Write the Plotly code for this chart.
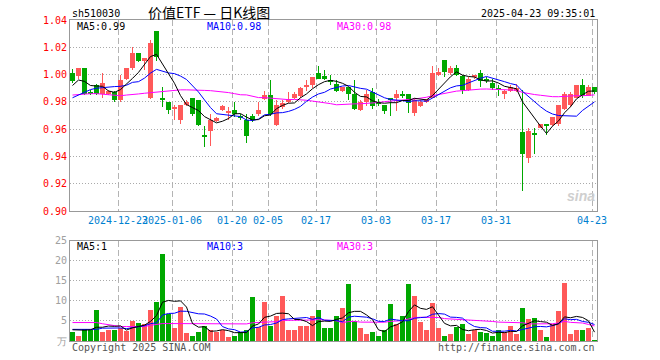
import plotly.graph_objects as go
import pandas as pd

dates = [
    "2024-12-11", "2024-12-12", "2024-12-13", "2024-12-16", "2024-12-17", "2024-12-18", "2024-12-19", "2024-12-20",
    "2024-12-23", "2024-12-24", "2024-12-25", "2024-12-26", "2024-12-27", "2024-12-30", "2024-12-31",
    "2025-01-02", "2025-01-03", "2025-01-06", "2025-01-07", "2025-01-08", "2025-01-09", "2025-01-10",
    "2025-01-13", "2025-01-14", "2025-01-15", "2025-01-16", "2025-01-17", "2025-01-20", "2025-01-21",
    "2025-01-22", "2025-01-23", "2025-01-24", "2025-01-27",
    "2025-02-05", "2025-02-06", "2025-02-07", "2025-02-10", "2025-02-11", "2025-02-12", "2025-02-13",
    "2025-02-14", "2025-02-17", "2025-02-18", "2025-02-19", "2025-02-20", "2025-02-21", "2025-02-24",
    "2025-02-25", "2025-02-26", "2025-02-27", "2025-02-28",
    "2025-03-03", "2025-03-04", "2025-03-05", "2025-03-06", "2025-03-07", "2025-03-10", "2025-03-11",
    "2025-03-12", "2025-03-13", "2025-03-14", "2025-03-17", "2025-03-18", "2025-03-19", "2025-03-20",
    "2025-03-21", "2025-03-24", "2025-03-25", "2025-03-26", "2025-03-27", "2025-03-28", "2025-03-31",
    "2025-04-01", "2025-04-02", "2025-04-03", "2025-04-07", "2025-04-08", "2025-04-09", "2025-04-10",
    "2025-04-11", "2025-04-14", "2025-04-15", "2025-04-16", "2025-04-17", "2025-04-18", "2025-04-21",
    "2025-04-22", "2025-04-23",
]

opens = [
    1.001, 0.999, 1.005, 0.987, 0.992, 0.986, 0.986, 0.987, 0.981, 0.997,
    1.005, 1.016, 1.010, 0.983, 1.032, 0.983, 0.980, 0.975, 0.967, 0.978,
    0.983, 0.981, 0.956, 0.959, 0.966, 0.974, 0.972, 0.974, 0.970, 0.967,
    0.970, 0.971, 0.982, 0.985, 0.963, 0.976, 0.980, 0.983, 0.984, 0.991,
    0.992, 1.001, 0.999, 0.996, 0.993, 0.988, 0.991, 0.986, 0.974, 0.980,
    0.987, 0.980, 0.978, 0.983, 0.983, 0.986, 0.986, 0.972, 0.977, 0.980,
    0.983, 1.000, 1.011, 1.001, 1.005, 0.999, 0.989, 0.998, 1.001, 0.997,
    0.994, 0.990, 0.986, 0.988, 0.988, 0.958, 0.939, 0.957, 0.961, 0.964,
    0.963, 0.964, 0.975, 0.978, 0.983, 0.992, 0.984, 0.991,
]
highs = [
    1.004, 1.005, 1.005, 0.989, 0.993, 1.001, 0.989, 0.988, 1.000, 1.005,
    1.020, 1.016, 1.012, 1.025, 1.032, 0.991, 0.980, 0.978, 0.978, 0.981,
    0.983, 0.981, 0.962, 0.971, 0.969, 0.978, 0.976, 0.980, 0.971, 0.971,
    0.971, 0.980, 0.988, 0.996, 0.981, 0.981, 0.987, 0.987, 0.991, 0.996,
    0.998, 1.006, 1.003, 1.000, 0.996, 0.991, 0.991, 0.996, 0.981, 0.989,
    0.990, 0.982, 0.978, 0.983, 0.989, 0.988, 0.986, 0.983, 0.981, 0.982,
    1.006, 1.005, 1.011, 1.006, 1.007, 1.000, 0.998, 1.000, 1.003, 0.998,
    0.997, 0.992, 0.989, 0.992, 0.993, 0.989, 0.961, 0.961, 0.964, 0.964,
    0.969, 0.978, 0.987, 0.987, 0.992, 0.997, 0.992, 0.991,
]
lows = [
    0.994, 0.997, 0.985, 0.985, 0.985, 0.983, 0.985, 0.980, 0.980, 0.996,
    1.003, 1.009, 1.003, 0.982, 1.010, 0.976, 0.971, 0.967, 0.964, 0.977,
    0.970, 0.962, 0.947, 0.948, 0.965, 0.973, 0.967, 0.969, 0.967, 0.950,
    0.965, 0.970, 0.981, 0.970, 0.962, 0.975, 0.979, 0.982, 0.983, 0.988,
    0.990, 0.997, 0.996, 0.992, 0.987, 0.987, 0.981, 0.974, 0.973, 0.977,
    0.975, 0.977, 0.971, 0.970, 0.973, 0.983, 0.972, 0.970, 0.976, 0.979,
    0.983, 0.999, 0.998, 1.000, 0.999, 0.986, 0.988, 0.997, 0.991, 0.994,
    0.989, 0.984, 0.982, 0.987, 0.987, 0.915, 0.935, 0.942, 0.961, 0.956,
    0.962, 0.962, 0.974, 0.976, 0.983, 0.983, 0.984, 0.986,
]
closes = [
    0.995, 1.005, 0.986, 0.986, 0.986, 0.994, 0.988, 0.981, 0.996, 1.005,
    1.016, 1.010, 1.012, 1.023, 1.013, 0.982, 0.974, 0.976, 0.978, 0.980,
    0.971, 0.963, 0.954, 0.967, 0.968, 0.977, 0.973, 0.971, 0.968, 0.955,
    0.967, 0.974, 0.985, 0.971, 0.978, 0.979, 0.982, 0.986, 0.990, 0.992,
    0.998, 0.997, 0.997, 0.995, 0.988, 0.991, 0.986, 0.975, 0.980, 0.986,
    0.977, 0.979, 0.973, 0.982, 0.986, 0.985, 0.979, 0.981, 0.980, 0.982,
    1.001, 1.002, 1.002, 1.005, 1.000, 0.989, 0.997, 1.000, 0.995, 0.995,
    0.990, 0.989, 0.988, 0.991, 0.990, 0.942, 0.959, 0.956, 0.964, 0.963,
    0.969, 0.978, 0.986, 0.986, 0.992, 0.984, 0.991, 0.987,
]
volumes = [
    2.25, 1.4, 3.1, 2.7, 7.7, 2.25, 2.9, 2.7, 3.3, 2.5,
    5.0, 4.6, 4.4, 7.9, 9.75, 21.7, 6.8, 3.3, 8.5, 2.0,
    1.2, 2.25, 3.9, 2.8, 2.4, 2.8, 1.0, 1.4, 2.4, 2.9,
    11.0, 3.5, 9.75, 3.9, 6.2, 11.4, 2.7, 2.7, 3.7, 3.7,
    6.4, 7.7, 3.3, 3.3, 6.2, 8.25, 14.2, 5.0, 3.3, 1.75,
    2.4, 1.4, 2.9, 9.2, 4.2, 6.2, 14.2, 11.2, 4.9, 2.9,
    9.5, 3.3, 1.4, 1.75, 3.5, 4.4, 1.75, 2.7, 2.25, 2.0,
    1.2, 2.7, 2.25, 3.9, 1.75, 8.25, 5.5, 5.8, 2.9, 1.0,
    4.2, 7.5, 14.5, 1.75, 2.7, 2.9, 3.3, 0.4,
]

# moving-average values for the first days, whose windows
# reach back before the visible range
ma5_lead = [0.992, 0.996, 0.995, 0.992]
ma10_lead = [0.983, 0.985, 0.987, 0.989, 0.990, 0.9905, 0.991, 0.9912, 0.9914]
ma30_lead = [0.9850, 0.9855, 0.9860, 0.9860, 0.9860, 0.9855, 0.9850, 0.9845, 0.9845, 0.9850,
             0.9852, 0.9858, 0.9863, 0.9868, 0.9872, 0.9878, 0.9883, 0.9886, 0.9888, 0.9888,
             0.9888, 0.9886, 0.9884, 0.9882, 0.9878, 0.9874, 0.9868, 0.9860, 0.9852]
vma5_lead = [2.8, 2.7, 2.7, 2.8]
vma10_lead = [2.9, 2.9, 2.9, 2.9, 2.9, 3.2, 3.25, 3.25, 3.25]
vma30_lead = [4.6, 4.6, 4.6, 4.6, 4.6, 4.3, 4.1, 3.9, 3.6, 3.6,
              3.6, 3.6, 3.6, 3.9, 4.1, 4.35, 4.35, 4.35, 4.35, 4.35,
              4.35, 4.35, 4.35, 4.35, 4.35, 4.35, 4.35, 4.2, 4.2]

tick_dates = ["2024-12-23", "2025-01-06", "2025-01-20", "2025-02-05", "2025-02-17",
              "2025-03-03", "2025-03-17", "2025-03-31", "2025-04-23"]
tick_labels = ["2024-12-23", "2025-01-06", "01-20", "02-05", "02-17",
               "03-03", "03-17", "03-31", "04-23"]
price_ticks = [0.90, 0.92, 0.94, 0.96, 0.98, 1.00, 1.02, 1.04]
vol_ticks = [0, 5, 10, 15, 20, 25]
vol_tick_text = ["万", "5", "10", "15", "20", "25"]

UP = "#ff5959"
DN = "#00a800"
MONO = "DejaVu Sans Mono"

n = len(dates)
x = list(range(n))
colors = [UP if c >= o else DN for o, c in zip(opens, closes)]


def ma(s, k, lead):
    full = pd.Series(s).rolling(k).mean().tolist()
    return list(lead) + full[len(lead):]


fig = go.Figure()

# wicks
fig.add_trace(go.Bar(x=x, y=[h - l for h, l in zip(highs, lows)], base=lows, width=1 / 6,
                     marker=dict(color=colors, line_width=0), xaxis="x", yaxis="y",
                     hoverinfo="skip", showlegend=False))
# bodies
fig.add_trace(go.Bar(x=x, y=[max(abs(c - o), 0.0008) for o, c in zip(opens, closes)],
                     base=[min(o, c) for o, c in zip(opens, closes)], width=5 / 6,
                     marker=dict(color=colors, line_width=0), xaxis="x", yaxis="y",
                     hoverinfo="skip", showlegend=False))
for k, lead, col in [(30, ma30_lead, "#ff00ff"), (10, ma10_lead, "#0000ff"), (5, ma5_lead, "#000000")]:
    fig.add_trace(go.Scatter(x=x, y=ma(closes, k, lead), mode="lines", line=dict(color=col, width=1),
                             xaxis="x", yaxis="y", hoverinfo="skip", showlegend=False))

# volume
fig.add_trace(go.Bar(x=x, y=volumes, width=5 / 6, marker=dict(color=colors, line_width=0),
                     xaxis="x2", yaxis="y2", hoverinfo="skip", showlegend=False))
for k, lead, col in [(30, vma30_lead, "#ff00ff"), (10, vma10_lead, "#0000ff"), (5, vma5_lead, "#000000")]:
    fig.add_trace(go.Scatter(x=x, y=ma(volumes, k, lead), mode="lines", line=dict(color=col, width=1),
                             xaxis="x2", yaxis="y2", hoverinfo="skip", showlegend=False))

W, H = 660, 360
L, R, T, B = 70, 597, 20, 341          # plot box in window pixels


def px(xp, yp):
    return (xp - L) / (R - L), (B - yp) / (B - T)


off = 2.5 / 6
tickpos = [dates.index(d) - off for d in tick_dates]
xr = [-off, n - 1 + off]

gridx = dict(showgrid=True, gridcolor="#b4b4b4", griddash="6px,3px", gridwidth=1,
             tickvals=tickpos, range=xr, zeroline=False, showline=True, mirror=True,
             linecolor="#999999", linewidth=1, ticks="", automargin=False, tickangle=0)

fig.update_layout(
    width=W, height=H,
    margin=dict(l=L, r=W - R, t=T, b=H - B, autoexpand=False),
    paper_bgcolor="white", plot_bgcolor="white",
    barmode="overlay", bargap=0,
    showlegend=False,
    xaxis=dict(domain=[0, 1], anchor="y", ticktext=tick_labels,
               tickfont=dict(family=MONO, size=10, color="#0080d0"), **gridx),
    xaxis2=dict(domain=[0, 1], anchor="y2", showticklabels=False, matches="x", **gridx),
    yaxis=dict(domain=[(B - 211) / (B - T), 1], range=[0.90, 1.04], tickvals=price_ticks,
               ticktext=["%.2f" % v for v in price_ticks],
               tickfont=dict(family=MONO, size=10, color="#ff0000"),
               showgrid=True, gridcolor="#aaaaaa", griddash="1px,2px", zeroline=False,
               showline=True, mirror=True, linecolor="#999999", ticks="", automargin=False),
    yaxis2=dict(domain=[0, (B - 240.7) / (B - T)], range=[0, 25], tickvals=vol_ticks,
                ticktext=vol_tick_text,
                tickfont=dict(family=MONO, size=10, color="#a0a0a0"),
                showgrid=True, gridcolor="#aaaaaa", griddash="1px,2px", zeroline=False,
                showline=True, mirror=True, linecolor="#999999", ticks="", automargin=False),
)

anns = [
    ("sh510030", 70, 13, "left", "#000000", MONO, 10),
    ("价值ETF — 日K线图", 209, 12, "center", "#000000", "Noto Sans CJK SC", 14),
    ("2025-04-23 09:35:01", 597, 13, "right", "#000000", MONO, 10),
    ("MA5:0.99", 75, 26, "left", "#000000", MONO, 10),
    ("MA10:0.98", 205, 26, "left", "#0000ff", MONO, 10),
    ("MA30:0.98", 335, 26, "left", "#ff00ff", MONO, 10),
    ("MA5:1", 75, 246, "left", "#000000", MONO, 10),
    ("MA10:3", 205, 246, "left", "#0000ff", MONO, 10),
    ("MA30:3", 335, 246, "left", "#ff00ff", MONO, 10),
    ("Copyright 2025 SINA.COM", 70, 347, "left", "#555555", MONO, 10),
    ("http://finance.sina.com.cn", 597, 347, "right", "#555555", MONO, 10),
    ("<b><i>sina</i></b>", 581, 196, "center", "#cfcfcf", "Liberation Sans", 14),
]
for text, xp, yp, anc, col, fam, size in anns:
    ax, ay = px(xp, yp)
    fig.add_annotation(text=text, x=ax, y=ay, xref="paper", yref="paper", xanchor=anc,
                       yanchor="middle", showarrow=False,
                       font=dict(family=fam, size=size, color=col))

fig.write_html("out.html", config={"displayModeBar": False},
               post_script="document.body.style.margin='0';")
